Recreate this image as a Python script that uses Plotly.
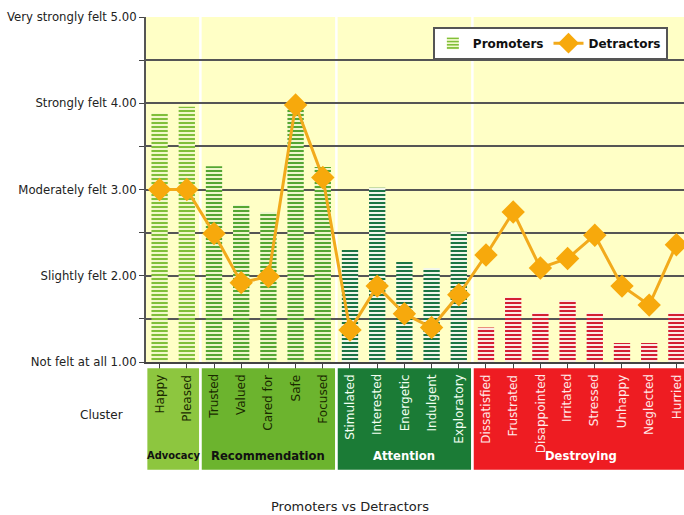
import plotly.graph_objects as go

categories = ["Happy", "Pleased", "Trusted", "Valued", "Cared for", "Safe", "Focused",
              "Stimulated", "Interested", "Energetic", "Indulgent", "Exploratory",
              "Dissatisfied", "Frustrated", "Disappointed", "Irritated", "Stressed",
              "Unhappy", "Neglected", "Hurried"]
clusters = ["Advocacy"] * 2 + ["Recommendation"] * 5 + ["Attention"] * 5 + ["Destroying"] * 8
promoters = [3.88, 3.96, 3.27, 2.82, 2.74, 3.94, 3.26,
             2.30, 3.02, 2.16, 2.09, 2.51,
             1.40, 1.75, 1.57, 1.72, 1.57, 1.22, 1.22, 1.57]
detractors = [3.00, 3.00, 2.49, 1.92, 1.99, 3.98, 3.14,
              1.37, 1.88, 1.56, 1.40, 1.78,
              2.24, 2.74, 2.09, 2.20, 2.47, 1.88, 1.66, 2.36]
y_tickvals = [1, 1.5, 2, 2.5, 3, 3.5, 4, 4.5, 5]
y_ticktext = ["Not felt at all 1.00", "", "Slightly felt 2.00", "", "Moderately felt 3.00", "",
              "Strongly felt 4.00", "", "Very strongly felt 5.00"]

cluster_style = {
    "Advocacy": dict(box="#8dc63f", bar="#80bf3a", barbg="#f2f8cc", text="#1a2a00", title="#111111",
                     tfont="DejaVu Sans Condensed, Liberation Sans Narrow, DejaVu Sans"),
    "Recommendation": dict(box="#6cb42e", bar="#55a633", barbg="#eef6cc", text="#1a2a00", title="#111111",
                           tfont="DejaVu Sans"),
    "Attention": dict(box="#1b7b36", bar="#1c7444", barbg="#f2f6ea", text="#f2fff2", title="#ffffff",
                      tfont="DejaVu Sans"),
    "Destroying": dict(box="#ee1c22", bar="#d41f34", barbg="#fbece6", text="#ffe8e8", title="#ffffff",
                       tfont="DejaVu Sans"),
}

x = list(range(len(categories)))

# group ranges
groups = []
start = 0
for i in range(1, len(clusters) + 1):
    if i == len(clusters) or clusters[i] != clusters[start]:
        groups.append((clusters[start], start, i - 1))
        start = i

fig = go.Figure()
for gi, (name, a, b) in enumerate(groups):
    st = cluster_style[name]
    xs = x[a:b + 1]
    ys = promoters[a:b + 1]
    fig.add_trace(go.Bar(
        x=xs, y=[v - 1 for v in ys], base=1, name="<b>Promoters</b>", width=0.6,
        legendgroup="prom", showlegend=(gi == 0),
        marker=dict(
            color=st["barbg"], line=dict(width=0),
            pattern=dict(shape="-", size=4, solidity=0.5, fgcolor=st["bar"], fgopacity=1,
                         fillmode="overlay"),
        ),
    ))
fig.add_trace(go.Scatter(
    x=x, y=detractors, name="<b>Detractors</b>", mode="lines+markers",
    line=dict(color="#f2aa1c", width=3),
    marker=dict(symbol="diamond", size=18, color="#f7a90c", line=dict(width=0)),
))

shapes = []
annotations = []
for gi, (name, a, b) in enumerate(groups):
    st = cluster_style[name]
    shapes.append(dict(type="rect", xref="x", yref="paper", x0=a - 0.5 + 0.05, x1=b + 0.5 - 0.05,
                       y0=-0.312, y1=-0.018, fillcolor=st["box"], line=dict(width=0), layer="above"))
    if gi > 0:
        shapes.append(dict(type="line", xref="x", yref="paper", x0=a - 0.5, x1=a - 0.5, y0=0, y1=1,
                           line=dict(color="white", width=2.5), layer="between"))
    annotations.append(dict(x=(a + b) / 2, y=-0.272, xref="x", yref="paper", text="<b>%s</b>" % name,
                            showarrow=False,
                            font=dict(size=11 if name == "Advocacy" else 11.6, color=st["title"],
                                      family=st["tfont"]),
                            yanchor="middle"))
for i, c in enumerate(categories):
    annotations.append(dict(x=i, y=-0.03, xref="x", yref="paper", text=c, textangle=-90,
                            showarrow=False, yanchor="top", xanchor="center",
                            font=dict(size=12, color=cluster_style[clusters[i]]["text"], family="DejaVu Sans")))
annotations.append(dict(x=-0.083, y=-0.155, xref="paper", yref="paper", text="Cluster", showarrow=False,
                        xanchor="center", yanchor="middle",
                        font=dict(size=12, color="#222222", family="DejaVu Sans")))
annotations.append(dict(x=0.38, y=-0.42, xref="paper", yref="paper", text="Promoters vs Detractors",
                        showarrow=False, font=dict(size=13, color="#222222", family="DejaVu Sans"),
                        yanchor="middle", xanchor="center"))

fig.update_layout(
    width=684, height=515,
    margin=dict(l=146, r=0, t=17, b=153),
    paper_bgcolor="white", plot_bgcolor="#ffffc6",
    font=dict(family="DejaVu Sans", size=11, color="#222222"),
    showlegend=True, barmode="overlay",
    legend=dict(orientation="h", x=0.97, xanchor="right", y=0.972, yanchor="top",
                bgcolor="white", bordercolor="#555555", borderwidth=2,
                font=dict(size=12, color="#111111", family="DejaVu Sans"),
                itemwidth=30, tracegroupgap=0),
    shapes=shapes, annotations=annotations,
)
fig.update_xaxes(range=[-0.5, 19.28], tickvals=x, ticktext=[""] * len(x), ticks="outside", ticklen=6,
                 tickcolor="#444444", showgrid=False, showline=True, linecolor="#444444", linewidth=2,
                 zeroline=False, fixedrange=True)
fig.update_yaxes(range=[1, 5], tickvals=y_tickvals, ticktext=y_ticktext, ticks="outside", ticklen=5,
                 tickcolor="#444444", showgrid=True, gridcolor="#555555", gridwidth=1.5,
                 showline=True, linecolor="#555555", linewidth=2, zeroline=False,
                 tickfont=dict(size=11.7, color="#222222"))

fig.write_html("out.html")
